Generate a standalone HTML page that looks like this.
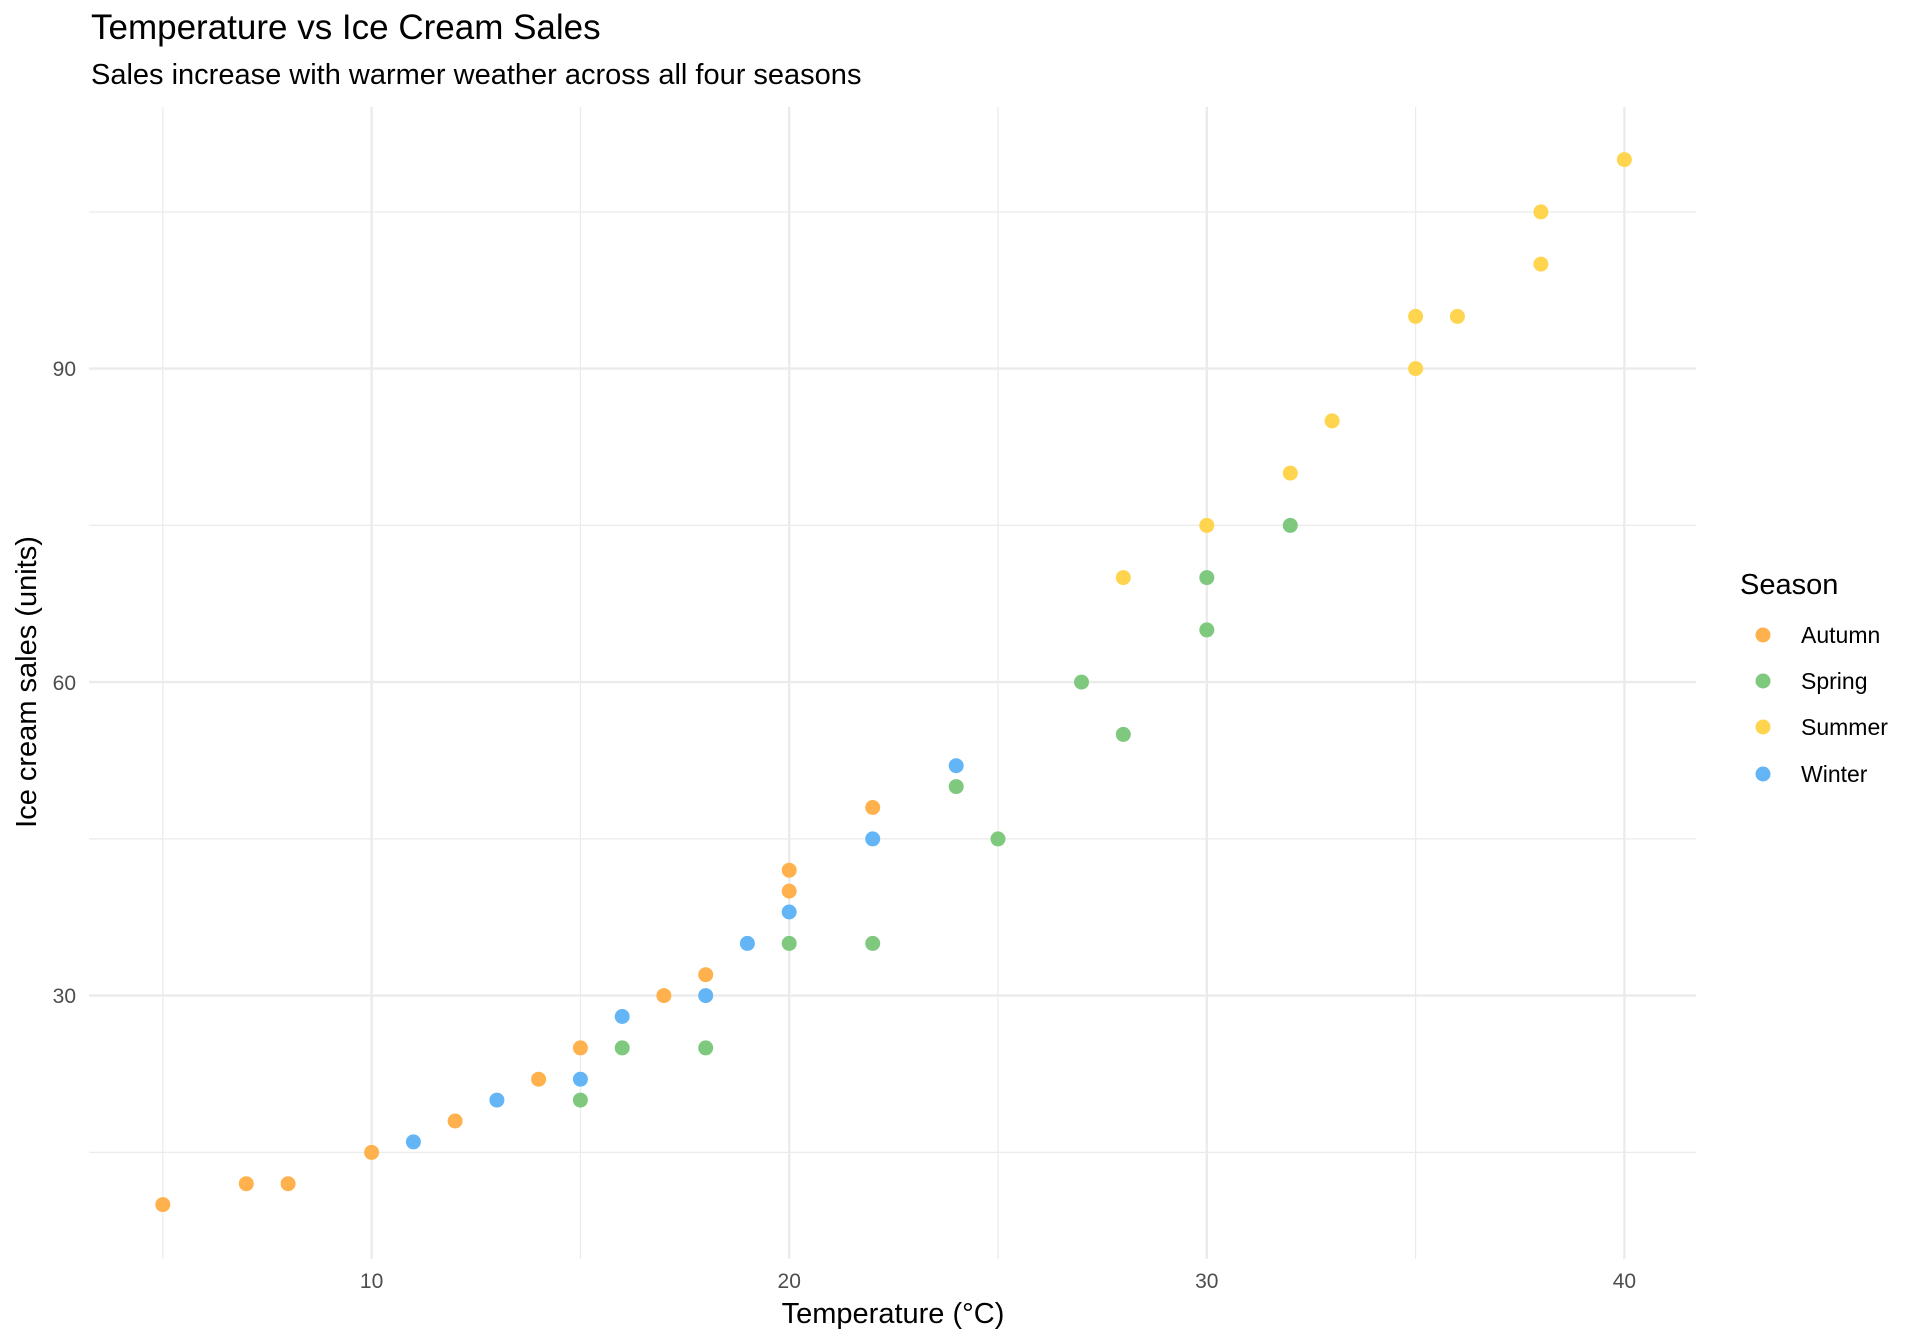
<!DOCTYPE html>
<html><head><meta charset="utf-8"><style>
html,body{margin:0;padding:0;background:#fff;}
svg{display:block;font-family:"Liberation Sans",Arial,sans-serif;}
</style></head><body>
<svg width="1920" height="1344" viewBox="0 0 1920 1344" xmlns="http://www.w3.org/2000/svg">
<rect width="1920" height="1344" fill="#fff"/>
<g stroke="#EBEBEB" stroke-width="1.2">
<line x1="89" x2="1696" y1="1152.4" y2="1152.4"/>
<line x1="89" x2="1696" y1="838.9" y2="838.9"/>
<line x1="89" x2="1696" y1="525.4" y2="525.4"/>
<line x1="89" x2="1696" y1="211.9" y2="211.9"/>
<line y1="107" y2="1259" x1="162.8" x2="162.8"/>
<line y1="107" y2="1259" x1="580.4" x2="580.4"/>
<line y1="107" y2="1259" x1="998" x2="998"/>
<line y1="107" y2="1259" x1="1415.6" x2="1415.6"/>
</g>
<g stroke="#EBEBEB" stroke-width="2.4">
<line x1="89" x2="1696" y1="995.6" y2="995.6"/>
<line x1="89" x2="1696" y1="682.1" y2="682.1"/>
<line x1="89" x2="1696" y1="368.6" y2="368.6"/>
<line y1="107" y2="1259" x1="371.6" x2="371.6"/>
<line y1="107" y2="1259" x1="789.2" x2="789.2"/>
<line y1="107" y2="1259" x1="1206.8" x2="1206.8"/>
<line y1="107" y2="1259" x1="1624.4" x2="1624.4"/>
</g>
<g fill="#4D4D4D" font-size="21">
<text x="76" y="1003" text-anchor="end">30</text>
<text x="76" y="690" text-anchor="end">60</text>
<text x="76" y="376" text-anchor="end">90</text>
<text x="371.6" y="1288" text-anchor="middle">10</text>
<text x="789.2" y="1288" text-anchor="middle">20</text>
<text x="1206.8" y="1288" text-anchor="middle">30</text>
<text x="1624.4" y="1288" text-anchor="middle">40</text>
</g>
<text x="91" y="39" font-size="35" fill="#000">Temperature vs Ice Cream Sales</text>
<text x="91" y="84" font-size="29" fill="#000">Sales increase with warmer weather across all four seasons</text>
<text x="893" y="1323" font-size="29" text-anchor="middle" fill="#000">Temperature (°C)</text>
<text transform="translate(36,682) rotate(-90)" font-size="29" text-anchor="middle" fill="#000">Ice cream sales (units)</text>
<text x="1740" y="594" font-size="29" fill="#000">Season</text>
<g font-size="23" fill="#000">
<circle cx="1763" cy="635" r="7.5" fill="#FFB14E"/><text x="1801" y="643">Autumn</text>
<circle cx="1763" cy="681" r="7.5" fill="#7FC97F"/><text x="1801" y="689">Spring</text>
<circle cx="1763" cy="727" r="7.5" fill="#FFD54F"/><text x="1801" y="735">Summer</text>
<circle cx="1763" cy="774" r="7.5" fill="#64B5F6"/><text x="1801" y="782">Winter</text>
</g>
<g fill="#FFB14E">
<circle cx="162.8" cy="1204.6" r="7.5"/><circle cx="246.3" cy="1183.7" r="7.5"/><circle cx="288.1" cy="1183.7" r="7.5"/>
<circle cx="371.6" cy="1152.4" r="7.5"/><circle cx="455.1" cy="1121" r="7.5"/><circle cx="538.6" cy="1079.2" r="7.5"/>
<circle cx="580.4" cy="1047.9" r="7.5"/><circle cx="663.9" cy="995.6" r="7.5"/><circle cx="705.7" cy="974.7" r="7.5"/>
<circle cx="789.2" cy="891.1" r="7.5"/><circle cx="789.2" cy="870.2" r="7.5"/><circle cx="872.7" cy="807.5" r="7.5"/>
</g>
<g fill="#64B5F6">
<circle cx="413.4" cy="1141.9" r="7.5"/><circle cx="496.9" cy="1100.1" r="7.5"/><circle cx="580.4" cy="1079.2" r="7.5"/>
<circle cx="622.2" cy="1016.5" r="7.5"/><circle cx="705.7" cy="995.6" r="7.5"/><circle cx="747.4" cy="943.4" r="7.5"/>
<circle cx="789.2" cy="912" r="7.5"/><circle cx="872.7" cy="838.9" r="7.5"/><circle cx="956.2" cy="765.7" r="7.5"/>
</g>
<g fill="#7FC97F">
<circle cx="580.4" cy="1100.1" r="7.5"/><circle cx="622.2" cy="1047.9" r="7.5"/><circle cx="705.7" cy="1047.9" r="7.5"/>
<circle cx="789.2" cy="943.4" r="7.5"/><circle cx="872.7" cy="943.4" r="7.5"/><circle cx="956.2" cy="786.6" r="7.5"/>
<circle cx="998" cy="838.9" r="7.5"/><circle cx="1081.5" cy="682.1" r="7.5"/><circle cx="1123.3" cy="734.4" r="7.5"/>
<circle cx="1206.8" cy="629.9" r="7.5"/><circle cx="1206.8" cy="577.6" r="7.5"/><circle cx="1290.3" cy="525.4" r="7.5"/>
</g>
<g fill="#FFD54F">
<circle cx="1123.3" cy="577.6" r="7.5"/><circle cx="1206.8" cy="525.4" r="7.5"/><circle cx="1290.3" cy="473.1" r="7.5"/>
<circle cx="1332.1" cy="420.9" r="7.5"/><circle cx="1415.6" cy="368.6" r="7.5"/><circle cx="1415.6" cy="316.4" r="7.5"/>
<circle cx="1457.4" cy="316.4" r="7.5"/><circle cx="1540.9" cy="264.1" r="7.5"/><circle cx="1540.9" cy="211.9" r="7.5"/>
<circle cx="1624.4" cy="159.6" r="7.5"/>
</g>
</svg>
</body></html>
